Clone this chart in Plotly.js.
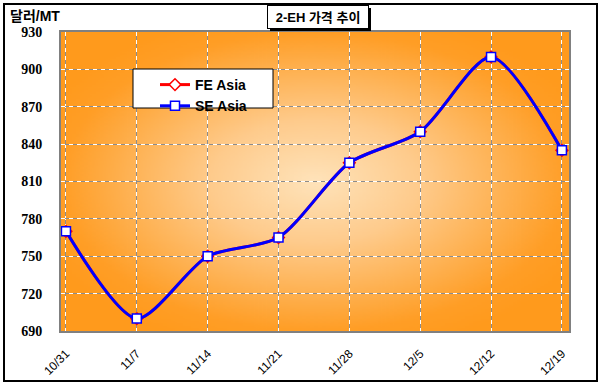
<!DOCTYPE html>
<html>
<head>
<meta charset="utf-8">
<script src="https://cdn.plot.ly/plotly-3.0.1.min.js"></script>
<style>
html,body{margin:0;padding:0;background:#fff;}
#chart{width:602px;height:386px;}
</style>
</head>
<body>
<div id="chart"></div>
<script>
// ---- data ----
const categories = ["10/31","11/7","11/14","11/21","11/28","12/5","12/12","12/19"];
const feAsia = [770, 700, 750, 765, 825, 850, 910, 835];
const seAsia = [770, 700, 750, 765, 825, 850, 910, 835];
const yTicks = [690, 720, 750, 780, 810, 840, 870, 900, 930];
const chartTitle = "2-EH 가격 추이";
const unitLabel = "달러/MT";
const seriesNames = ["FE Asia", "SE Asia"];

// ---- background gradient image ----
function gradientImage(){
  const c = document.createElement('canvas');
  c.width = 256; c.height = 256;
  const ctx = c.getContext('2d');
  const g = ctx.createRadialGradient(128,128,0,128,128,150);
  g.addColorStop(0, '#FFE3BA');
  g.addColorStop(0.35, '#FECB8C');
  g.addColorStop(0.85, '#FF9E26');
  g.addColorStop(1, '#FF9A1C');
  ctx.fillStyle = g;
  ctx.fillRect(0,0,256,256);
  return c.toDataURL('image/png');
}

const idx = categories.map((_, i) => i);
const xRange = [-0.07, 7.10];
const yRange = [yTicks[0], yTicks[yTicks.length-1]];

const traces = [
  {
    x: idx, y: feAsia, name: seriesNames[0], type: 'scatter', mode: 'lines+markers',
    line: {color: '#FF0000', width: 3, shape: 'spline', smoothing: 0.75},
    marker: {symbol: 'diamond', size: 9, color: '#FFFFFF', line: {color: '#FF0000', width: 1.5}}
  },
  {
    x: idx, y: seAsia, name: seriesNames[1], type: 'scatter', mode: 'lines+markers',
    line: {color: '#0000FF', width: 3, shape: 'spline', smoothing: 0.75},
    marker: {symbol: 'square', size: 9, color: '#FFFFFF', line: {color: '#0000FF', width: 1.5}}
  },
  { x: [], y: [], xaxis: 'x2', yaxis: 'y2', showlegend: false, hoverinfo: 'skip' }
];

const L = 61, R = 569, T = 32, B = 331;
const px = v => (v - L) / (R - L);
const py = v => (B - v) / (B - T);

const layout = {
  width: 602, height: 386,
  margin: {l: L, r: 602 - R, t: T, b: 386 - B},
  paper_bgcolor: '#FFFFFF',
  plot_bgcolor: 'rgba(0,0,0,0)',
  showlegend: true,
  font: {family: 'Liberation Sans, Arial, sans-serif', color: '#000'},
  xaxis: {
    range: xRange, tickmode: 'array', tickvals: idx, ticktext: categories,
    tickangle: -45, tickfont: {family: 'Liberation Sans, Arial, sans-serif', size: 12, color: '#000'},
    ticks: '', ticklabelstandoff: 9,
    showgrid: true, gridcolor: '#FFFFFF', gridwidth: 1, griddash: '4px,4px',
    showline: true, mirror: true, linecolor: '#808080', linewidth: 2,
    zeroline: false, fixedrange: true
  },
  yaxis: {
    range: yRange, tickmode: 'array', tickvals: yTicks,
    tickfont: {family: 'Liberation Serif, Times New Roman, serif', size: 14, color: '#000', weight: 'bold'},
    ticks: '', ticklabelstandoff: 14,
    showgrid: true, gridcolor: '#FFFFFF', gridwidth: 1, griddash: '4px,4px',
    showline: true, mirror: true, linecolor: '#808080', linewidth: 2,
    zeroline: false, fixedrange: true
  },
  xaxis2: {
    overlaying: 'x', anchor: 'y2', range: xRange, tickmode: 'array', tickvals: idx,
    showticklabels: false, ticks: '', showline: false, zeroline: false,
    showgrid: true, gridcolor: '#8C8C8C', gridwidth: 1, griddash: '0px,4px,4px,0px'
  },
  yaxis2: {
    overlaying: 'y', anchor: 'x2', range: yRange, tickmode: 'array', tickvals: yTicks,
    showticklabels: false, ticks: '', showline: false, zeroline: false,
    showgrid: true, gridcolor: '#8C8C8C', gridwidth: 1, griddash: '0px,4px,4px,0px'
  },
  legend: {
    x: px(133), y: py(69), xanchor: 'left', yanchor: 'top',
    bgcolor: 'rgba(0,0,0,0)', borderwidth: 0,
    font: {family: 'Liberation Sans, Arial, sans-serif', size: 14, color: '#000', weight: 'bold'},
    indentation: 22, itemwidth: 30, tracegroupgap: 0
  },
  images: [{
    source: gradientImage(), xref: 'paper', yref: 'paper',
    x: 0, y: 1, sizex: 1, sizey: 1, xanchor: 'left', yanchor: 'top',
    sizing: 'stretch', layer: 'below'
  }],
  shapes: [
    {type: 'rect', xref: 'paper', yref: 'paper', x0: px(4), x1: px(597), y0: py(381), y1: py(4),
     line: {color: '#000', width: 2}, fillcolor: 'rgba(0,0,0,0)'},
    {type: 'rect', xref: 'paper', yref: 'paper', x0: px(270), x1: px(371), y0: py(31), y1: py(8),
     line: {width: 0}, fillcolor: '#000'},
    {type: 'rect', xref: 'paper', yref: 'paper', x0: px(133), x1: px(273), y0: py(108), y1: py(69),
     line: {color: '#000', width: 1}, fillcolor: '#FFFFFF', layer: 'above'}
  ],
  annotations: [
    {text: chartTitle, xref: 'paper', yref: 'paper', x: px(267), y: py(5),
     xanchor: 'left', yanchor: 'top', showarrow: false, width: 98, height: 20,
     bgcolor: '#FFFFFF', bordercolor: '#000', borderwidth: 1, borderpad: 1,
     font: {family: 'Liberation Sans, Noto Sans CJK KR, sans-serif', size: 13, color: '#000', weight: 'bold'}},
    {text: unitLabel, xref: 'paper', yref: 'paper', x: px(8), y: py(16),
     xanchor: 'left', yanchor: 'middle', showarrow: false,
     font: {family: 'Liberation Sans, Noto Sans CJK KR, sans-serif', size: 14, color: '#000', weight: 'bold'}}
  ]
};

Plotly.newPlot('chart', traces, layout, {staticPlot: true, displayModeBar: false});
</script>
</body>
</html>
